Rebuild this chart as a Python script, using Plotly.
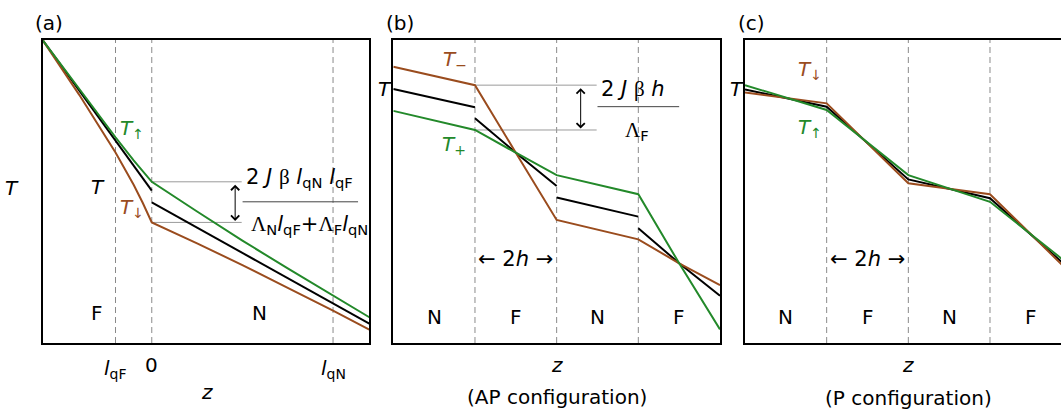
import plotly.graph_objects as go

GREEN = "#23892a"
BROWN = "#9a4c1e"
BLACK = "#000000"
DASH_GRAY = "#8a8a8a"
LINE_GRAY = "#9a9a9a"
FONT = "DejaVu Sans, Liberation Sans, Arial, sans-serif"
SERIF = "Liberation Serif"

# ---------------- data ----------------
# Panel (a): z in units of l_qN, F layer z<0, N layer z>0
a_z = [-0.6, -0.4, -0.2, -0.1, -0.05, 0.0, 0.25, 0.5, 0.75, 1.0, 1.2]
a_T_up = [9.98, 8.37, 6.79, 6.03, 5.67, 5.32, 4.34, 3.38, 2.46, 1.56, 0.85]
a_T_dn = [9.98, 8.19, 6.29, 5.22, 4.63, 3.98, 3.29, 2.57, 1.82, 1.07, 0.44]
a_T_F = [9.98, 8.33, 6.68, 5.86, 5.45, 5.03]
a_T_N = [4.64, 3.81, 2.97, 2.13, 1.31, 0.64]
a_lines = [-0.2, 0.0, 1.0]

# Panel (b): AP configuration, layers of thickness 2h
b_z = [-4, -2, -1, 0, 2, 3, 4]
b_T_minus = [9.12, 8.51, 6.28, 4.06, 3.42, 2.63, 1.91]
b_T_plus = [7.66, 7.03, 6.28, 5.54, 4.91, 2.63, 0.45]
b_T_segs = [([-4, -2], [8.38, 7.78]),
            ([-2, -1, 0], [7.42, 6.28, 5.18]),
            ([0, 2], [4.80, 4.17]),
            ([2, 3, 4], [3.79, 2.63, 1.56])]

# Panel (c): P configuration
c_z = [-4, -2, 0, 2, 4]
c_T_dn = [8.27, 7.91, 5.27, 4.91, 2.27]
c_T_up = [8.51, 7.69, 5.54, 4.66, 2.52]
c_T = [8.37, 7.80, 5.40, 4.78, 2.38]

layer_lines = [-2, 0, 2]
layer_labels = ["N", "F", "N", "F"]
layer_centers = [-3, -1, 1, 3]

fig = go.Figure()


def line(x, y, color, n):
    fig.add_trace(go.Scatter(x=x, y=y, mode="lines", line=dict(color=color, width=2),
                             xaxis="x" if n == 1 else f"x{n}",
                             yaxis="y" if n == 1 else f"y{n}",
                             showlegend=False, hoverinfo="skip"))


# panel a
line(a_z[:6] + [None] + a_z[5:], a_T_F + [None] + a_T_N, BLACK, 1)
line(a_z, a_T_dn, BROWN, 1)
line(a_z, a_T_up, GREEN, 1)
# panel b
bx, by = [], []
for xs, ys in b_T_segs:
    bx += xs + [None]
    by += ys + [None]
line(bx, by, BLACK, 2)
line(b_z, b_T_minus, BROWN, 2)
line(b_z, b_T_plus, GREEN, 2)
# panel c
line(c_z, c_T, BLACK, 3)
line(c_z, c_T_dn, BROWN, 3)
line(c_z, c_T_up, GREEN, 3)

ydom = [1 - 343 / 411, 1 - 40 / 411]
ax_common = dict(showline=True, linecolor="black", linewidth=1.5, showticklabels=False,
                 ticks="", showgrid=False, zeroline=False, fixedrange=True)
fig.update_layout(
    width=1061, height=411, autosize=False,
    margin=dict(l=0, r=0, t=0, b=0),
    paper_bgcolor="white", plot_bgcolor="white",
    font=dict(family=FONT, size=20, color="black"),
    xaxis=dict(domain=[43 / 1061, 369.3 / 1061], range=[-0.6, 1.2], anchor="y", mirror=True, **ax_common),
    yaxis=dict(domain=ydom, range=[0, 10], anchor="x", mirror=True, **ax_common),
    xaxis2=dict(domain=[393.3 / 1061, 720 / 1061], range=[-4, 4], anchor="y2", mirror=True, **ax_common),
    yaxis2=dict(domain=ydom, range=[0, 10], anchor="x2", mirror=True, **ax_common),
    xaxis3=dict(domain=[745 / 1061, 1.0], range=[-4, 3.739], anchor="y3", mirror=True, **ax_common),
    yaxis3=dict(domain=ydom, range=[0, 10], anchor="x3", mirror=False, **ax_common),
)

shapes = []
dash = dict(color=DASH_GRAY, width=1, dash="6px,4px")
for z in a_lines:
    shapes.append(dict(type="line", xref="x", yref="y domain", x0=z, x1=z, y0=0, y1=1, line=dash, layer="below"))
for n in (2, 3):
    for z in layer_lines:
        shapes.append(dict(type="line", xref=f"x{n}", yref=f"y{n} domain", x0=z, x1=z, y0=0, y1=1,
                           line=dash, layer="below"))
gl = dict(color=LINE_GRAY, width=1)
# level guide lines
for yv in (a_T_up[5], a_T_dn[5]):
    shapes.append(dict(type="line", xref="x", yref="y", x0=0, x1=0.496, y0=yv, y1=yv, line=gl, layer="below"))
for yv in (b_T_minus[1], b_T_plus[1]):
    shapes.append(dict(type="line", xref="x2", yref="y2", x0=-2, x1=0.98, y0=yv, y1=yv, line=gl, layer="below"))
# fraction bars
fb = dict(color="#444444", width=1)
shapes.append(dict(type="line", xref="x", yref="y", x0=0.501, x1=1.138, y0=4.66, y1=4.66, line=fb))
shapes.append(dict(type="line", xref="x2", yref="y2", x0=1.0, x1=3.0, y0=7.80, y1=7.80, line=fb))
fig.update_layout(shapes=shapes)

ann = []


def txt(x, y, text, xref="paper", yref="paper", color="black", size=20):
    ann.append(dict(x=x, y=y, xref=xref, yref=yref, text=text, showarrow=False,
                    font=dict(color=color, size=size, family=FONT), xanchor="center", yanchor="middle"))


def px(xp):
    return xp / 1061


def py(yp):
    return 1 - yp / 411


# panel labels
txt(px(49), py(23), "(a)")
txt(px(400), py(23), "(b)")
txt(px(751.7), py(23), "(c)")
# axis titles
txt(px(12), py(188), "<i>T</i>")
txt(0.302, py(391.7), "<i>z</i>", xref="x")
txt(0, py(365), "<i>z</i>", xref="x2")
txt(0, py(397), "(AP configuration)", xref="x2")
txt(0, py(365), "<i>z</i>", xref="x3")
txt(0, py(398), "(P configuration)", xref="x3")
# tick-like labels panel a
txt(-0.2, py(369), "<i>l</i><sub>qF</sub>", xref="x")
txt(0.0, py(365), "0", xref="x")
txt(1.0, py(369), "<i>l</i><sub>qN</sub>", xref="x")

# panel a labels
txt(-0.296, 5.15, "<i>T</i>", "x", "y")
txt(-0.108, 7.05, "<i>T</i><sub>↑</sub>", "x", "y", GREEN)
txt(-0.108, 4.45, "<i>T</i><sub>↓</sub>", "x", "y", BROWN)
txt(-0.30, 0.99, "F", "x", "y")
txt(0.596, 0.99, "N", "x", "y")
beta = f"<span style='font-family:{SERIF}'>β</span>"
lam = f"<span style='font-family:{SERIF}'>Λ</span>"
txt(0.817, 5.45, f"2 <i>J</i> {beta} <i>l</i><sub>qN</sub> <i>l</i><sub>qF</sub>", "x", "y", size=21)
txt(0.872, 3.89, f"{lam}<sub>N</sub><i>l</i><sub>qF</sub>+{lam}<sub>F</sub><i>l</i><sub>qN</sub>", "x", "y", size=21)

# panel b labels
txt(px(385), py(89), "<i>T</i>")
txt(-2.49, 9.35, "<i>T</i><sub>−</sub>", "x2", "y2", BROWN)
txt(-2.51, 6.55, "<i>T</i><sub>+</sub>", "x2", "y2", GREEN)
txt(1.87, 8.38, f"2 <i>J</i> {beta} <i>h</i>", "x2", "y2", size=21)
txt(1.96, 7.01, f"{lam}<sub>F</sub>", "x2", "y2", size=21)
txt(-1.0, 2.77, "← 2<i>h</i> →", "x2", "y2", size=21)

# panel c labels
txt(px(736.7), py(89.3), "<i>T</i>")
txt(-2.41, 9.0, "<i>T</i><sub>↓</sub>", "x3", "y3", BROWN)
txt(-2.41, 7.1, "<i>T</i><sub>↑</sub>", "x3", "y3", GREEN)
txt(-1.0, 2.77, "← 2<i>h</i> →", "x3", "y3", size=21)

for n in (2, 3):
    for zc, lab in zip(layer_centers, layer_labels):
        if n == 3 and zc > 3.739:
            continue
        txt(zc, 0.87, lab, f"x{n}", f"y{n}")

# double arrows
for xr, yr, xv, y_top, y_bot in (("x", "y", 0.46, a_T_up[5], a_T_dn[5]),
                                 ("x2", "y2", 0.588, b_T_minus[1], b_T_plus[1])):
    ann.append(dict(x=xv, y=y_bot + 0.05, ax=xv, ay=y_top - 0.05, xref=xr, yref=yr, axref=xr, ayref=yr,
                    text="", showarrow=True, arrowhead=4, startarrowhead=4, arrowside="end+start",
                    arrowsize=1.6, startarrowsize=1.6, arrowwidth=1, arrowcolor="black"))

fig.update_layout(annotations=ann)
fig.write_html("out.html")
